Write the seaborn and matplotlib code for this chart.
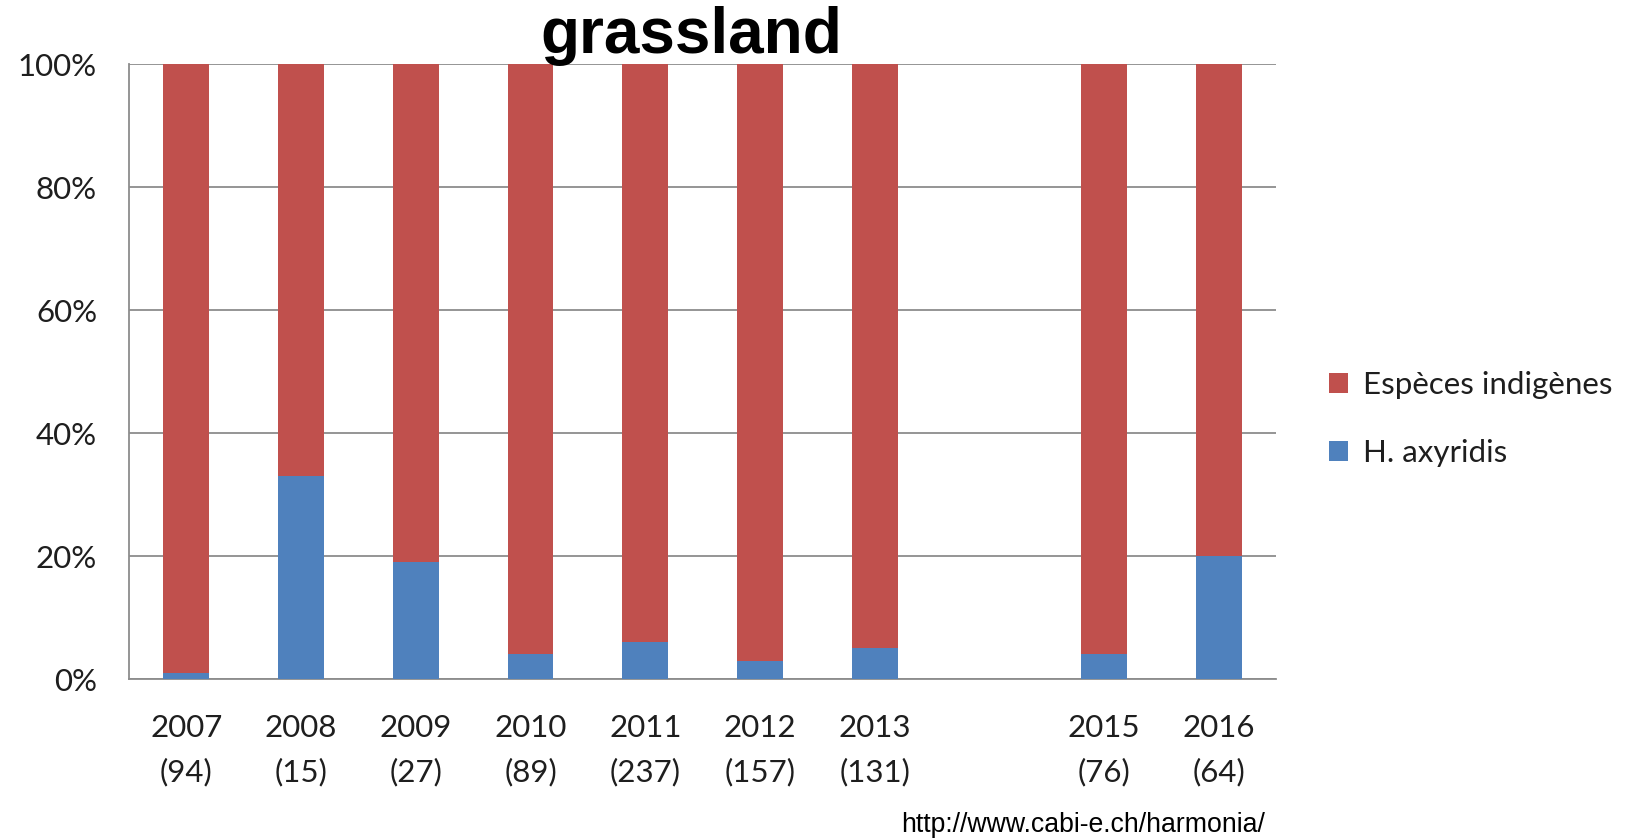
import numpy as np
import pandas as pd
import matplotlib
matplotlib.use("Agg")
import matplotlib.pyplot as plt
from matplotlib.patches import Patch
from matplotlib.ticker import FixedLocator, PercentFormatter
import seaborn as sns

# Survey years (2014 was not sampled) and number of ladybirds counted per year
years = ["2007", "2008", "2009", "2010", "2011", "2012", "2013", "2014", "2015", "2016"]
n_counted = [94, 15, 27, 89, 237, 157, 131, None, 76, 64]

# Share of each group in the grassland samples (%)
harmonia_pct = [1, 33, 19, 4, 6, 3, 5, np.nan, 4, 20]
native_pct = [np.nan if np.isnan(h) else 100 - h for h in harmonia_pct]

series_names = ["Espèces indigènes", "H. axyridis"]
series_colors = ["#C0504D", "#4F81BD"]

df = pd.DataFrame({
    "year": years,
    "harmonia": harmonia_pct,
    "native": native_pct,
})
df["total"] = df["harmonia"] + df["native"]

sns.set_theme(style="white")
plt.rcParams["font.family"] = ["Lato", "DejaVu Sans"]

fig = plt.figure(figsize=(16.49, 8.38), dpi=100)
ax = fig.add_axes([0.0782, 0.1897, 0.774 - 0.0782, 0.9236 - 0.1897])

# Stacked 100% bars: full column in red, invasive share overlaid in blue
sns.barplot(data=df, x="year", y="total", order=years, color=series_colors[0],
            width=0.4, saturation=1, ax=ax, errorbar=None, zorder=3, linewidth=0)
sns.barplot(data=df, x="year", y="harmonia", order=years, color=series_colors[1],
            width=0.4, saturation=1, ax=ax, errorbar=None, zorder=4, linewidth=0)

ax.set_xlim(-0.5, len(years) - 0.5)
ax.set_ylim(0, 100)
ax.set_xlabel("")
ax.set_ylabel("")

grid_color = "#8C8C8C"
text_color = "#1E1E1E"
ax.yaxis.set_major_locator(FixedLocator([0, 20, 40, 60, 80, 100]))
ax.yaxis.set_major_formatter(PercentFormatter(decimals=0))
ax.grid(axis="y", color=grid_color, linewidth=1.3, zorder=0)
ax.set_axisbelow(True)

# Category labels with sample sizes; ticks sit between categories
labels = ["" if n is None else f"{y}\n({n})" for y, n in zip(years, n_counted)]
ax.set_xticks(range(len(years)))
ax.set_xticklabels(labels, linespacing=1.68)
ax.set_xticks(np.arange(-0.5, len(years), 1.0), minor=True)
ax.tick_params(axis="x", which="major", length=0, pad=25, labelsize=22.5,
               colors=text_color)
ax.tick_params(axis="x", which="minor", length=8, width=1.2, color=grid_color,
               direction="out")
ax.tick_params(axis="y", which="major", length=7, width=1.2, color=grid_color,
               direction="out", pad=16, labelsize=22.5, labelcolor=text_color)

for side in ["top", "right"]:
    ax.spines[side].set_visible(False)
for side in ["left", "bottom"]:
    ax.spines[side].set_color(grid_color)
    ax.spines[side].set_linewidth(1.3)

fig.text(0.419, 0.957, "grassland", ha="center", va="center", color="black",
         fontsize=46, fontweight="bold", family=["Liberation Sans", "DejaVu Sans"])

handles = [Patch(facecolor=c, edgecolor="none") for c in series_colors]
fig.legend(handles, series_names, loc="center left", bbox_to_anchor=(0.806, 0.5),
           frameon=False, fontsize=22.5, handlelength=0.62, handleheight=0.62,
           handletextpad=0.45, labelspacing=1.3, borderpad=0, borderaxespad=0,
           labelcolor=text_color)

fig.text(0.767, 0.015, "http://www.cabi-e.ch/harmonia/", ha="right", va="center",
         fontsize=19.2, family=["Liberation Sans", "DejaVu Sans"], color="black")

fig.savefig("out.png", dpi=100, facecolor="white")
